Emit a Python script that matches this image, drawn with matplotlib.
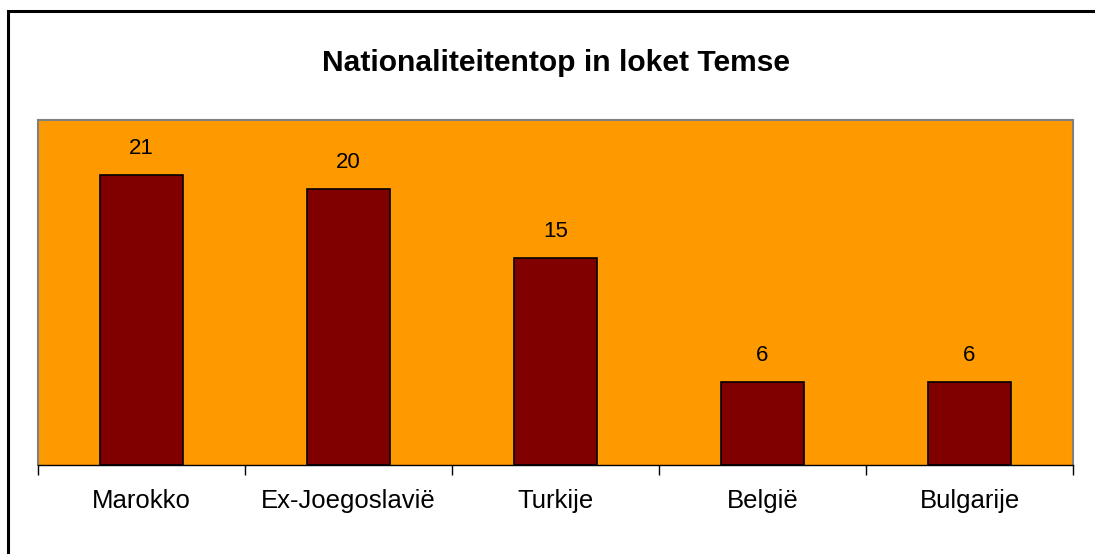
import matplotlib
matplotlib.use("Agg")
import matplotlib.pyplot as plt
from matplotlib.patches import Rectangle
import numpy as np

plt.rcParams['font.family'] = ['Liberation Sans', 'DejaVu Sans']

categories = ["Marokko", "Ex-Joegoslavië", "Turkije", "België", "Bulgarije"]
counts = [21, 20, 15, 6, 6]
title = "Nationaliteitentop in loket Temse"

W, H = 1095, 554
fig = plt.figure(figsize=(W / 100, H / 100), dpi=100)

# plot area in pixels: x 38..1073, y 120..465
ax = fig.add_axes([38 / W, (H - 465) / H, (1073 - 38) / W, (465 - 120) / H])
ax.set_facecolor("#FF9900")

x = np.arange(len(categories))
ax.bar(x, counts, width=0.40, color="#800000", edgecolor="black", linewidth=1.2, zorder=2)

for xi, v in zip(x, counts):
    ax.annotate(str(v), xy=(xi, v), xytext=(0, 19), textcoords="offset points",
                ha="center", va="center", fontsize=16)

ax.set_xlim(-0.5, len(categories) - 0.5)
ax.set_ylim(0, 25)
ax.set_yticks([])

ax.set_xticks(x)
ax.set_xticklabels(categories, fontsize=18.5)
ax.set_xticks(np.arange(-0.5, len(categories)), minor=True)
ax.tick_params(axis="x", which="major", length=0, pad=17)
ax.tick_params(axis="x", which="minor", length=7, width=1, color="black")

for side in ["top", "left", "right"]:
    ax.spines[side].set_color("#808080")
    ax.spines[side].set_linewidth(1.5)
ax.spines["bottom"].set_color("black")
ax.spines["bottom"].set_linewidth(1)

fig.text(556 / W, (H - 63) / H, title, ha="center", va="center", fontsize=21.6, fontweight="bold")

# outer chart border (runs off the right/bottom edge)
fig.patches.append(Rectangle((7.5 / W, -0.1), 1.2, (H - 10.5) / H + 0.1, transform=fig.transFigure,
                             fill=False, edgecolor="black", linewidth=2.2))

fig.savefig("out.png", dpi=100, facecolor="white")
